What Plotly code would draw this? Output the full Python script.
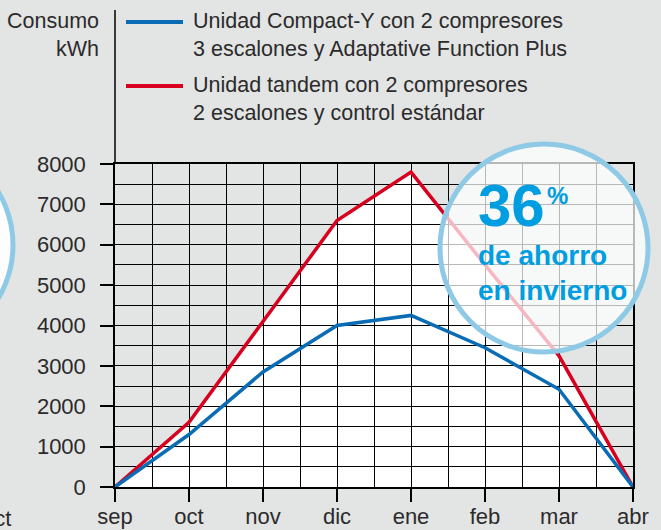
import plotly.graph_objects as go

meses = ["sep", "oct", "nov", "dic", "ene", "feb", "mar", "abr"]
compact_y = [0, 1300, 2850, 4000, 4250, 3450, 2420, 0]
tandem = [0, 1600, 4100, 6600, 7800, 5500, 3250, 0]
y_ticks = [0, 1000, 2000, 3000, 4000, 5000, 6000, 7000, 8000]

nombre_compact = "Unidad Compact-Y con 2 compresores<br>3 escalones y Adaptative Function Plus"
nombre_tandem = "Unidad tandem con 2 compresores<br>2 escalones y control estándar"

W, H = 661, 530
L, R, T, B = 115, 28, 164, 43
PW, PH = W - L - R, H - T - B

def px(x):
    return (x - L) / PW

def py(y):
    return (H - B - y) / PH

bg = "#e3e4e4"
txt = "#2b2b2b"
azul = "#0a6cb4"
rojo = "#d8001e"
celeste = "#009ee0"
font = "Liberation Sans"

x = list(range(len(meses)))

fig = go.Figure()

# white area under the tandem curve (lower subplot, below the grid)
fig.add_trace(go.Scatter(x=x, y=tandem, mode="lines", fill="tozeroy",
                         fillcolor="white", line=dict(width=0),
                         xaxis="x", yaxis="y", showlegend=False, hoverinfo="skip"))

fig.add_trace(go.Scatter(x=x, y=tandem, mode="lines", name=nombre_tandem,
                         line=dict(color=rojo, width=3.5),
                         xaxis="x2", yaxis="y2", showlegend=False))
fig.add_trace(go.Scatter(x=x, y=compact_y, mode="lines", name=nombre_compact,
                         line=dict(color=azul, width=3.5),
                         xaxis="x2", yaxis="y2", showlegend=False))

fig.update_layout(
    width=W, height=H,
    margin=dict(l=L, r=R, t=T, b=B, autoexpand=False),
    paper_bgcolor=bg, plot_bgcolor="rgba(0,0,0,0)",
    font=dict(family=font, size=20, color=txt),
    xaxis=dict(range=[0, 7], visible=False, domain=[0, 1]),
    yaxis=dict(range=[0, 8000], visible=False, domain=[0, 1]),
    xaxis2=dict(range=[0, 7], anchor="y2", domain=[0, 1], automargin=False,
                tickvals=x, ticktext=meses,
                showgrid=True, gridcolor="black", gridwidth=1.2,
                minor=dict(dtick=0.5, tick0=0, showgrid=True, gridcolor="black", gridwidth=1.2),
                showline=True, linecolor="black", linewidth=1.5, mirror=True,
                ticks="outside", ticklen=13, tickwidth=1.5, tickcolor="black",
                ticklabelstandoff=-4, zeroline=False,
                tickfont=dict(size=22, color=txt)),
    yaxis2=dict(range=[0, 8000], anchor="x2", domain=[0, 1], automargin=False,
                tickvals=y_ticks,
                showgrid=True, gridcolor="black", gridwidth=1.2,
                minor=dict(dtick=500, tick0=0, showgrid=True, gridcolor="black", gridwidth=1.2),
                showline=True, linecolor="black", linewidth=1.5, mirror=True,
                ticks="outside", ticklen=13, tickwidth=1.5, tickcolor="black",
                ticklabelstandoff=10, zeroline=False,
                tickfont=dict(size=22, color=txt)),
)

shapes = [
    # vertical axis line extended upward
    dict(type="line", xref="paper", yref="paper", x0=0, x1=0, y0=1, y1=py(10),
         line=dict(color="black", width=1.5)),
    # legend keys
    dict(type="line", xref="paper", yref="paper", x0=px(126), x1=px(183),
         y0=py(22), y1=py(22), line=dict(color=azul, width=4)),
    dict(type="line", xref="paper", yref="paper", x0=px(126), x1=px(183),
         y0=py(86), y1=py(86), line=dict(color=rojo, width=4)),
    # savings badge
    dict(type="circle", xref="paper", yref="paper", layer="above",
         x0=px(440), x1=px(648), y0=py(352), y1=py(144),
         fillcolor="rgba(255,255,255,0.72)", line=dict(color="#8ecae6", width=5)),
    # neighbouring badge cut at the left edge
    dict(type="circle", xref="paper", yref="paper", layer="above",
         x0=px(-195), x1=px(13), y0=py(349), y1=py(141),
         fillcolor="rgba(255,255,255,0.9)", line=dict(color="#8ecae6", width=5)),
]
fig.update_layout(shapes=shapes)

annotations = [
    dict(text="Consumo<br>kWh", x=px(101), y=py(35), xanchor="right", yanchor="middle",
         align="right", font=dict(size=21.5, color=txt)),
    dict(text=nombre_compact, x=px(191), y=py(35), xanchor="left", yanchor="middle",
         align="left", font=dict(size=21.5, color=txt)),
    dict(text=nombre_tandem, x=px(191), y=py(98.5), xanchor="left", yanchor="middle",
         align="left", font=dict(size=21.5, color=txt)),
    dict(text="<b>36</b>", x=px(476), y=py(205), xanchor="left", yanchor="middle",
         font=dict(size=60, color=celeste)),
    dict(text="<b>%</b>", x=px(545), y=py(195), xanchor="left", yanchor="middle",
         font=dict(size=24, color=celeste)),
    dict(text="<b>de ahorro</b>", x=px(476), y=py(255), xanchor="left", yanchor="middle",
         font=dict(size=28, color=celeste)),
    dict(text="<b>en invierno</b>", x=px(476), y=py(290), xanchor="left", yanchor="middle",
         font=dict(size=28, color=celeste)),
    # label of the neighbouring chart, cut at the left edge
    dict(text="oct", x=px(13), y=py(518), xanchor="right", yanchor="middle",
         font=dict(size=22, color=txt)),
]
for a in annotations:
    a.update(xref="paper", yref="paper", showarrow=False)
fig.update_layout(annotations=annotations)

fig.write_html("out.html", config={"displayModeBar": False},
               post_script="document.body.style.margin='0px';")
